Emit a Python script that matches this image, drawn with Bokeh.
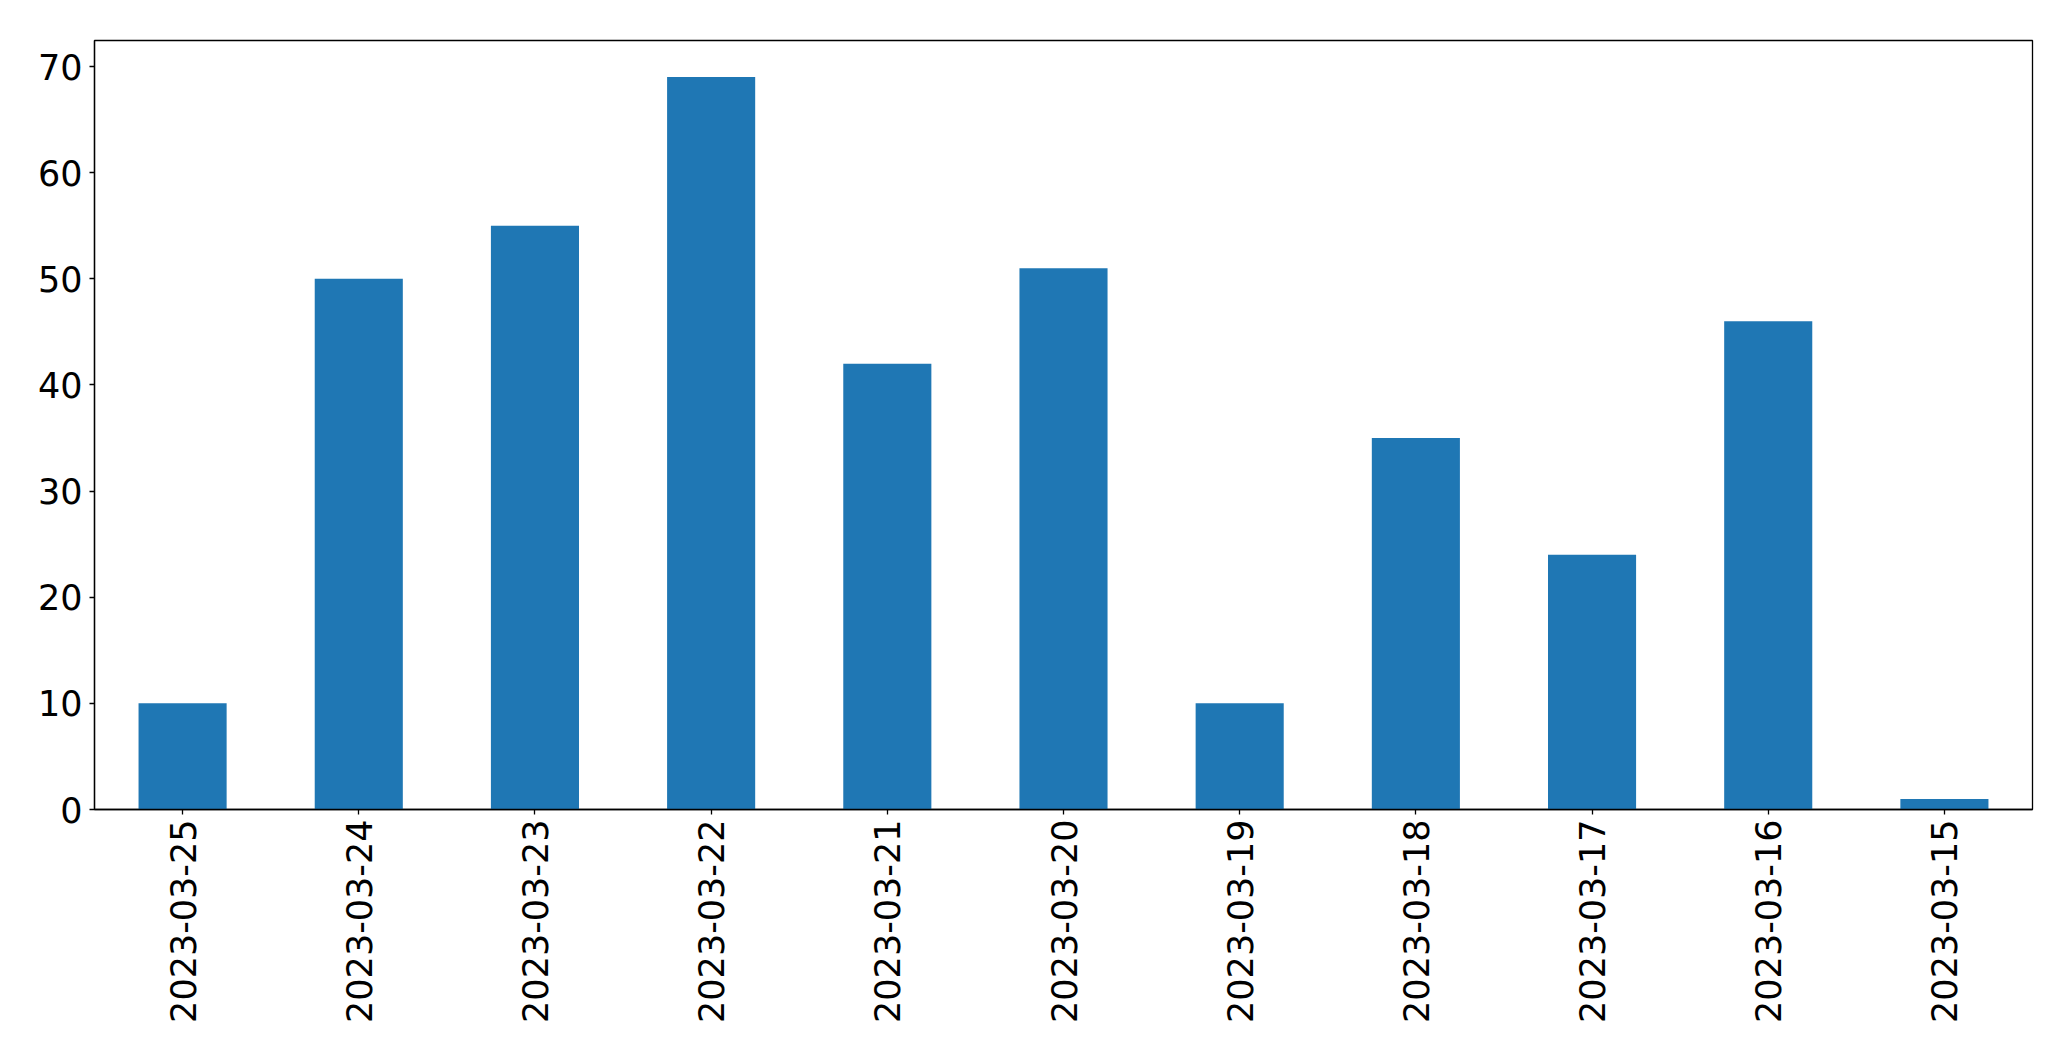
from bokeh.plotting import figure
from bokeh.models import FactorRange, Range1d, FixedTicker
from bokeh.embed import file_html
from bokeh.resources import INLINE
import math

dates = ["2023-03-25", "2023-03-24", "2023-03-23", "2023-03-22", "2023-03-21",
         "2023-03-20", "2023-03-19", "2023-03-18", "2023-03-17", "2023-03-16",
         "2023-03-15"]
counts = [10, 50, 55, 69, 42, 51, 10, 35, 24, 46, 1]
y_ticks = [0, 10, 20, 30, 40, 50, 60, 70]

p = figure(width=2063, height=1053, output_backend="svg", toolbar_location=None,
           x_range=FactorRange(*dates), y_range=Range1d(0, max(counts) * 1.05),
           min_border_left=94, min_border_right=31, min_border_top=40,
           min_border_bottom=244)

p.vbar(x=dates, top=counts, width=0.5, color="#1f77b4", line_color=None)

p.xgrid.visible = False
p.ygrid.visible = False
p.outline_line_color = "black"
p.outline_line_width = 1.3
p.outline_line_alpha = 1

for ax in (p.xaxis[0], p.yaxis[0]):
    ax.major_label_text_font = "DejaVu Sans"
    ax.major_label_text_font_size = "35px"
    ax.major_label_text_color = "black"
    ax.axis_line_color = "black"
    ax.axis_line_width = 1.3
    ax.major_tick_line_color = "black"
    ax.major_tick_line_width = 1.3
    ax.major_tick_in = 0
    ax.major_tick_out = 5
    ax.minor_tick_line_color = None

p.yaxis.ticker = FixedTicker(ticks=y_ticks)
p.yaxis.major_label_standoff = 7
p.xaxis.major_label_orientation = math.pi / 2
p.xaxis.major_label_standoff = 5

open("out.html", "w").write(file_html(p, INLINE))
